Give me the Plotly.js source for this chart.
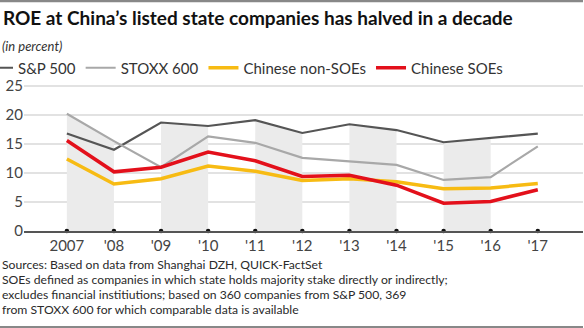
<!DOCTYPE html>
<html><head><meta charset="utf-8">
<script src="https://cdn.plot.ly/plotly-3.0.1.min.js"></script>
<style>html,body{margin:0;padding:0;background:#fff}#chart{width:584px;height:328px}</style>
</head><body><div id="chart"></div>
<script>
var years = [2007, 2008, 2009, 2010, 2011, 2012, 2013, 2014, 2015, 2016, 2017];
var tickLabels = ['2007', "'08", "'09", "'10", "'11", "'12", "'13", "'14", "'15", "'16", "'17"];
var sp500 = [16.8, 14.0, 18.7, 18.1, 19.1, 16.9, 18.4, 17.4, 15.3, 16.0, 16.8];
var stoxx600 = [20.2, 15.5, 11.0, 16.3, 15.2, 12.6, 12.0, 11.4, 8.8, 9.3, 14.6];
var nonSOEs = [12.4, 8.1, 9.0, 11.2, 10.3, 8.7, 9.0, 8.5, 7.3, 7.4, 8.2];
var SOEs = [15.6, 10.2, 11.0, 13.6, 12.1, 9.4, 9.6, 7.9, 4.8, 5.1, 7.1];
var bandStarts = [0, 2, 4, 6, 8];
var yTicks = [0, 5, 10, 15, 20, 25];
var footnoteLines = [
  'Sources: Based on data from Shanghai DZH, QUICK-FactSet',
  'SOEs defined as companies in which state holds majority stake directly or indirectly;',
  'excludes financial institiutions; based on 360 companies from S&P 500, 369',
  'from STOXX 600 for which comparable data is available'
];

var topVals = years.map(function(_, i){ return Math.max(sp500[i], stoxx600[i], nonSOEs[i], SOEs[i]); });
var FONT = 'Lato, "Open Sans", sans-serif';
var PH = 151, PW = 559, ML = 24, PB = 231;
function py(pix){ return (PB - pix) / PH; }
function px(pix){ return (pix - ML) / PW; }
var traces = [];
bandStarts.forEach(function(s){
  traces.push({x:[years[s], years[s+1]], y:[topVals[s], topVals[s+1]], type:'scatter', mode:'lines',
    fill:'tozeroy', fillcolor:'#ebebeb', line:{width:0, color:'#ebebeb'}, showlegend:false, hoverinfo:'skip'});
});
function line(name, y, color, w){
  return {x:years, y:y, name:name, type:'scatter', mode:'lines', line:{color:color, width:w}};
}
traces.push(line('S&P 500', sp500, '#555555', 2.2));
traces.push(line('STOXX 600', stoxx600, '#a8a8a8', 2.2));
traces.push(line('Chinese non-SOEs', nonSOEs, '#f7bb13', 3.5));
traces.push(line('Chinese SOEs', SOEs, '#e3101b', 3.5));
traces.push({x:years, y:years.map(function(){return 0;}), type:'scatter', mode:'markers',
  marker:{color:'#111', size:4.5}, cliponaxis:false, showlegend:false, hoverinfo:'skip'});

var annotations = [
  {text:'<i>(in percent)</i>', xref:'paper', yref:'paper', x:px(0), y:py(46), xanchor:'left', yanchor:'middle',
    showarrow:false, font:{size:13, color:'#333'}}
];
footnoteLines.forEach(function(t, i){
  annotations.push({text:t, xref:'paper', yref:'paper', x:px(0), y:py(264 + i*15.3), xanchor:'left', yanchor:'middle',
    showarrow:false, font:{size:12.2, color:'#2a2a2a'}});
});

var layout = {
  width:584, height:328,
  margin:{l:ML, r:1, t:80, b:97, autoexpand:false},
  paper_bgcolor:'#fff', plot_bgcolor:'#fff',
  font:{family:FONT, color:'#333'},
  title:{text:'ROE at China\u2019s listed state companies has halved in a decade', x:0.005, xanchor:'left', y:1 - 18/328, yanchor:'middle',
    font:{size:19, family:FONT, color:'#111', weight:700}},
  xaxis:{range:[2006.09, 2017.96], tickvals:years, ticktext:tickLabels, showgrid:false, zeroline:false, automargin:false,
    showline:true, linecolor:'#555', linewidth:1.5, ticks:'', tickfont:{size:15, color:'#444'}, fixedrange:true},
  yaxis:{range:[0, 26.03], tickvals:yTicks, showgrid:true, gridcolor:'#e2e2e2', gridwidth:1.5, zeroline:false, automargin:false,
    ticks:'', tickfont:{size:15, color:'#444'}, fixedrange:true},
  showlegend:true,
  legend:{orientation:'h', x:px(-22), xanchor:'left', y:py(68), yanchor:'middle', font:{size:15, color:'#333'},
    bgcolor:'rgba(0,0,0,0)'},
  annotations:annotations,
  shapes:[
    {type:'line', xref:'paper', yref:'paper', x0:px(0), x1:1, y0:py(1), y1:py(1), line:{color:'#888', width:2.5}},
    {type:'line', xref:'paper', yref:'paper', x0:px(0), x1:1, y0:py(327), y1:py(327), line:{color:'#888', width:2}}
  ]
};
Plotly.newPlot('chart', traces, layout, {displayModeBar:false, staticPlot:true});
</script></body></html>
